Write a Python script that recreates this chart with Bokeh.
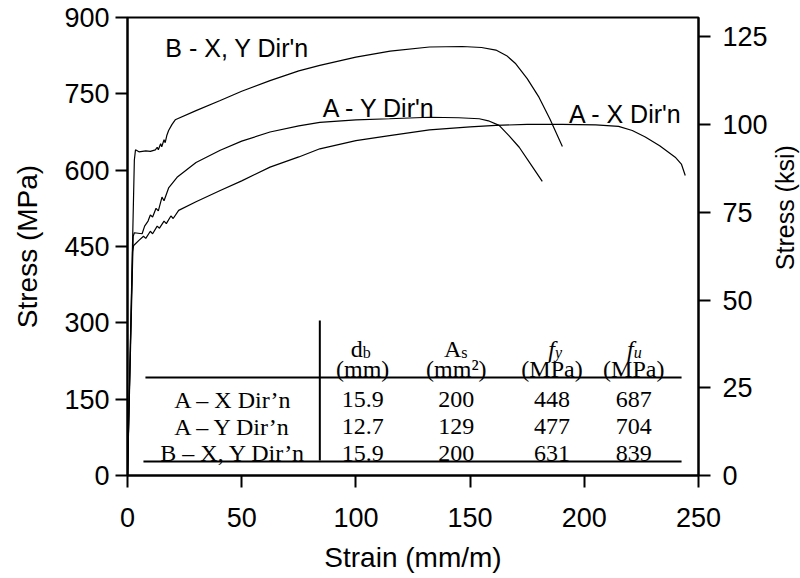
import math
from bokeh.plotting import figure
from bokeh.layouts import row
from bokeh.models import Range1d, LinearAxis, FixedTicker
from bokeh.core.properties import value
from bokeh.embed import file_html
from bokeh.resources import INLINE

# ---- data (strain mm/m, stress MPa) ----
ax_strain = [0, 2.2, 2.7, 5, 7, 8, 10, 11, 13, 14, 16, 17, 19, 20, 22.4, 30, 40.6, 50, 62.4, 75,
             84.2, 100, 114.7, 132.2, 150, 161.3, 175, 190.4, 205, 215, 221, 226.7, 233, 239.8,
             242.5, 244.2]
ax_stress = [0, 440, 452, 462, 470, 466, 480, 475, 490, 486, 500, 495, 510, 505, 521, 538, 560, 579,
             606, 626, 642, 658, 668, 679, 685, 688, 690, 690, 689, 686, 678, 665, 648, 625.5,
             612, 589.5]

ay_strain = [0, 2.5, 3, 6.4, 7.5, 9, 10, 11, 12.5, 13.5, 15.1, 16, 18, 21.7, 30, 40.6, 50, 62.4, 75,
             84.2, 100, 114.7, 132.2, 145, 154, 158, 162.7, 167, 171.5, 176.5, 181.6]
ay_stress = [0, 470, 477, 475, 490, 500, 512, 508, 525, 520, 547, 540, 565, 586, 615, 639, 657, 675,
             687, 694, 699, 701, 704, 703, 701, 697, 688, 668, 645, 612, 578]

b_strain = [0, 3.0, 3.5, 5, 8, 10, 12.2, 13, 13.5, 14.5, 15, 16, 16.5, 17.2, 18, 19.5, 20.9, 30,
            40.6, 50, 62.4, 75, 84.2, 100, 115, 132.2, 146.6, 155, 161.3, 166, 170, 175, 180.2,
            185, 190.4]
b_stress = [0, 620, 640, 636, 638, 637, 640, 645, 640, 652, 646, 660, 654, 668, 678, 690, 699, 717,
            737, 755, 776, 795, 806, 822, 834, 842, 843, 841, 836, 825, 809, 780, 743, 700, 646.5]

curve_labels = ["B - X, Y Dir'n", "A - Y Dir'n", "A - X Dir'n"]

# table
row_names = ["A \u2013 X Dir\u2019n", "A \u2013 Y Dir\u2019n", "B \u2013 X, Y Dir\u2019n"]
col_db = ["15.9", "12.7", "15.9"]
col_as = ["200", "129", "200"]
col_fy = ["448", "477", "631"]
col_fu = ["687", "704", "839"]
units = ["(mm)", "(mm\u00b2)", "(MPa)", "(MPa)"]

x_ticks = [0, 50, 100, 150, 200, 250]
y_ticks = [0, 150, 300, 450, 600, 750, 900]
ksi_ticks = [0, 25, 50, 75, 100, 125]
MPA_PER_KSI = 6.894757
right_label = "Stress (ksi)"

SANS = "Liberation Sans"
SERIF = "Liberation Serif"

# ---- layout helpers (canvas pixel -> data) ----
X0, X1, Y0, Y1 = 127.0, 700.0, 475.0, 17.0
def px(xp):
    return (xp - X0) / (X1 - X0) * 250.0
def py(yp):
    return (Y0 - yp) / (Y0 - Y1) * 900.0

p = figure(width=770, height=578, output_backend="svg", toolbar_location=None,
           x_range=Range1d(0, 250), y_range=Range1d(0, 900),
           min_border_left=127, min_border_right=70, min_border_top=17, min_border_bottom=103)
p.extra_y_ranges = {"ksi": Range1d(0, 900 / MPA_PER_KSI)}
p.grid.visible = False
p.outline_line_color = "black"
p.outline_line_width = 2
p.background_fill_color = "white"
p.border_fill_color = "white"

def style_axis(ax, ticks):
    ax.ticker = FixedTicker(ticks=ticks)
    ax.axis_line_width = 2
    ax.major_tick_line_width = 2
    ax.major_tick_in = 0
    ax.major_tick_out = 12
    ax.minor_tick_line_color = None
    ax.major_label_text_font = SANS
    ax.major_label_text_font_size = "27px"
    ax.major_label_text_color = "black"
    ax.axis_label_text_font = SANS
    ax.axis_label_text_font_size = "28px"
    ax.axis_label_text_font_style = "normal"
    ax.axis_label_text_color = "black"

style_axis(p.xaxis[0], x_ticks)
p.xaxis[0].axis_label = "Strain (mm/m)"
p.xaxis[0].major_label_standoff = 20
p.xaxis[0].axis_label_standoff = 12
style_axis(p.yaxis[0], y_ticks)
p.yaxis[0].axis_label = "Stress (MPa)"
p.yaxis[0].major_label_standoff = 6
p.yaxis[0].axis_label_standoff = 18

rax = LinearAxis(y_range_name="ksi")
style_axis(rax, ksi_ticks)
rax.major_label_standoff = 12
p.add_layout(rax, "right")

# ---- curves ----
for xs, ys in [(ax_strain, ax_stress), (ay_strain, ay_stress), (b_strain, b_stress)]:
    p.line(xs, ys, line_color="black", line_width=1.2)

# curve labels
lab_x = [px(165), px(323), px(570)]
lab_y = [py(47), py(107.7), py(113.3)]
p.text(x=lab_x, y=lab_y, text=curve_labels, text_font=value(SANS), text_font_size="25px",
       text_baseline="middle", text_align="left", text_color="black")

# ---- table ----
p.segment(x0=[px(145), px(143), px(320)], y0=[py(377), py(461), py(320)],
          x1=[px(683), px(683), px(320)], y1=[py(377), py(461), py(460)],
          line_color="black", line_width=2)

col_cx = [px(363), px(457), px(553), px(635)]
row_base = [py(399), py(426), py(452.5)]
tfs = "24px"
p.text(x=[px(233)] * 3, y=row_base, text=row_names, text_font=value(SERIF), text_font_size=tfs,
       text_align="center", text_baseline="alphabetic", text_color="black")
for cx, col in zip(col_cx, [col_db, col_as, col_fy, col_fu]):
    p.text(x=[cx] * 3, y=row_base, text=col, text_font=value(SERIF), text_font_size=tfs,
           text_align="center", text_baseline="alphabetic", text_color="black")
p.text(x=col_cx, y=[py(368)] * 4, text=units, text_font=value(SERIF), text_font_size=tfs,
       text_align="center", text_baseline="alphabetic", text_color="black")

# header symbols with subscripts
sym_main = ["d", "A", "f", "f"]
sym_sub = ["b", "s", "y", "u"]
sym_split = [px(363), px(462), px(556), px(635)]
sym_style = ["normal", "normal", "italic", "italic"]
for sx, m, s, st in zip(sym_split, sym_main, sym_sub, sym_style):
    p.text(x=[sx], y=[py(348)], text=[m], text_font=value(SERIF), text_font_size=tfs,
           text_font_style=st, text_align="right", text_baseline="alphabetic", text_color="black")
    p.text(x=[sx], y=[py(352)], text=[s], text_font=value(SERIF), text_font_size="16px",
           text_font_style=st, text_align="left", text_baseline="alphabetic", text_color="black")

# ---- right-hand axis title (separate narrow panel, reads bottom-to-top) ----
p2 = figure(width=30, height=578, output_backend="svg", toolbar_location=None,
            x_range=Range1d(0, 30), y_range=Range1d(0, 578),
            x_axis_type=None, y_axis_type=None, min_border=0)
p2.outline_line_color = None
p2.background_fill_color = "white"
p2.border_fill_color = "white"
p2.text(x=[14], y=[578 - 240], text=[right_label], angle=math.pi / 2,
        text_font=value(SANS), text_font_size="25px", text_align="center",
        text_baseline="middle", text_color="black")

layout = row(p, p2, spacing=0)
open("out.html", "w").write(file_html(layout, INLINE))
